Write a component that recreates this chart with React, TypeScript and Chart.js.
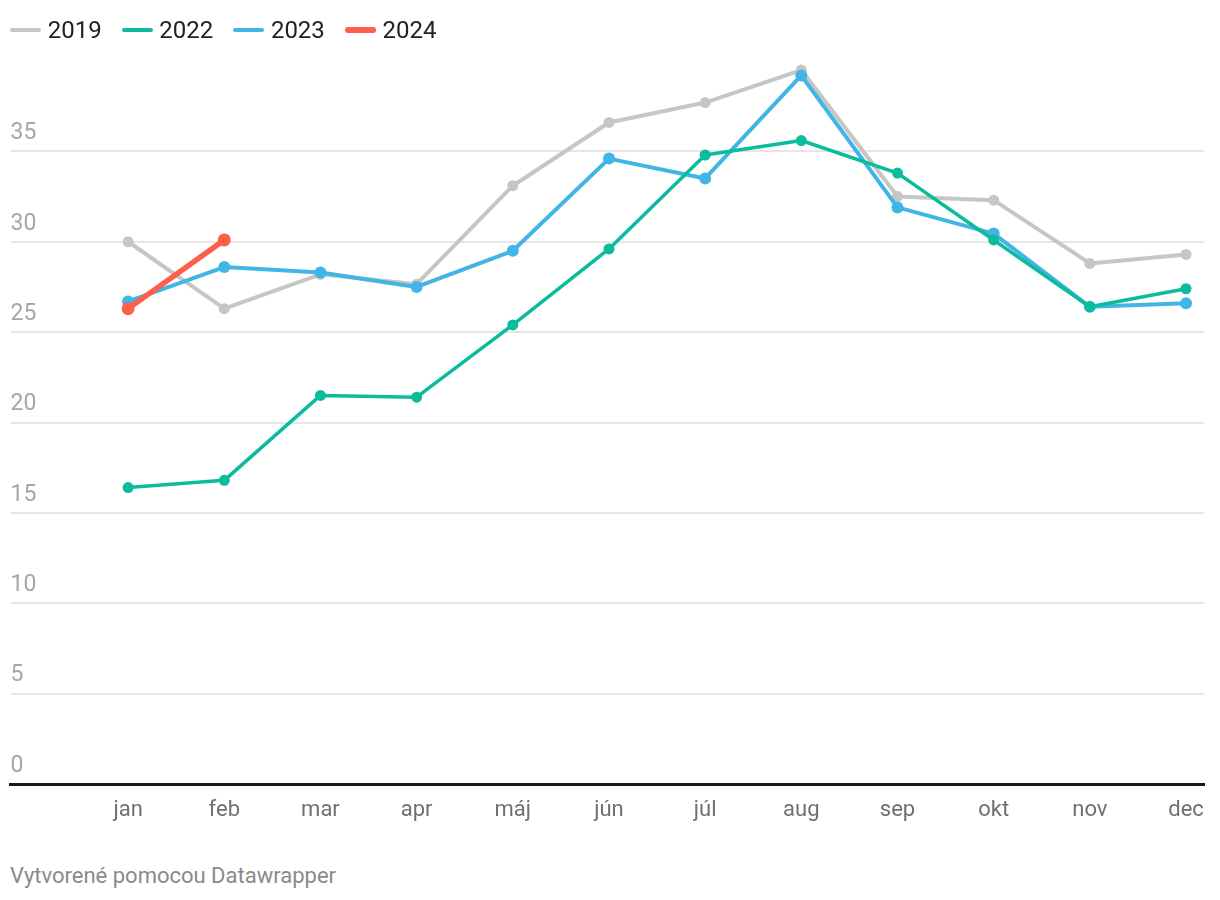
import React, { useEffect, useRef } from "react";
import { Chart, registerables } from "chart.js";

Chart.register(...registerables);

const months = ["jan", "feb", "mar", "apr", "máj", "jún", "júl", "aug", "sep", "okt", "nov", "dec"];
const yTicks = [0, 5, 10, 15, 20, 25, 30, 35];

const values2019 = [30.0, 26.3, 28.2, 27.65, 33.1, 36.6, 37.7, 39.5, 32.5, 32.3, 28.8, 29.3];
const values2022 = [16.4, 16.8, 21.5, 21.4, 25.4, 29.6, 34.8, 35.6, 33.8, 30.1, 26.4, 27.4];
const values2023 = [26.7, 28.6, 28.3, 27.5, 29.5, 34.6, 33.5, 39.2, 31.9, 30.45, 26.4, 26.6];
const values2024 = [26.3, 30.1];

const seriesNames = ["2019", "2022", "2023", "2024"];
const seriesColors = ["#c6c6c6", "#0abc9c", "#41b6e6", "#fd5f4b"];
const seriesValues = [values2019, values2022, values2023, values2024];
const lineWidths = [4, 3.5, 4, 5.5];
const pointRadii = [5.5, 5.5, 6, 6.5];
const drawOrder = [3, 1, 2, 0];
const legendThickness = [4, 4, 4, 6];

const FONT = "Roboto, 'Noto Sans', sans-serif";

export default function App() {
  const canvasRef = useRef<HTMLCanvasElement | null>(null);

  useEffect(() => {
    if (!canvasRef.current) return;
    const chart = new Chart(canvasRef.current, {
      type: "line",
      data: {
        datasets: seriesValues.map((vals, si) => ({
          label: seriesNames[si],
          data: vals.map((v, i) => ({ x: i, y: v })),
          borderColor: seriesColors[si],
          backgroundColor: seriesColors[si],
          pointBackgroundColor: seriesColors[si],
          pointBorderWidth: 0,
          borderWidth: lineWidths[si],
          pointRadius: pointRadii[si],
          pointHoverRadius: pointRadii[si],
          borderCapStyle: "round",
          borderJoinStyle: "round",
          tension: 0,
          order: drawOrder[si],
          clip: false as any,
        })),
      },
      options: {
        animation: false,
        responsive: true,
        maintainAspectRatio: false,
        layout: { padding: { top: 53, left: 2, right: 8, bottom: 11.6 } },
        plugins: {
          legend: { display: false },
          tooltip: { enabled: false },
        },
        scales: {
          x: {
            type: "linear",
            min: -1.223,
            max: 11.187,
            afterBuildTicks: (scale: any) => {
              scale.ticks = months.map((_, i) => ({ value: i }));
            },
            afterFit: (scale: any) => {
              scale.paddingLeft = 0;
              scale.paddingRight = 0;
            },
            grid: { display: false, drawTicks: false },
            border: { display: true, color: "#1a1a1a", width: 3 },
            ticks: {
              autoSkip: false,
              maxRotation: 0,
              padding: 13,
              color: "#707070",
              font: { family: FONT, size: 22 },
              callback: (v: any) => months[v as number] ?? "",
            },
          },
          y: {
            type: "linear",
            min: 0,
            max: 40,
            afterBuildTicks: (scale: any) => {
              scale.ticks = yTicks.map((v) => ({ value: v }));
            },
            afterFit: (scale: any) => {
              scale.width = 0;
              scale.paddingTop = 0;
              scale.paddingBottom = 0;
            },
            grid: { color: "#e6e6e6", lineWidth: 2, drawTicks: false },
            border: { display: false },
            ticks: {
              mirror: true,
              padding: 0,
              labelOffset: -18,
              color: "#a6a6a6",
              font: { family: FONT, size: 23 },
              callback: (v: any) => String(v),
            },
          },
        },
      },
    });
    return () => chart.destroy();
  }, []);

  return (
    <div style={{ position: "relative", width: 1204, height: 884, fontFamily: FONT }}>
      <div style={{ position: "absolute", left: -4, top: 0, width: 1208, height: 840 }}>
        <canvas ref={canvasRef} />
      </div>
      <div
        style={{
          position: "absolute",
          left: 2,
          top: 8,
          height: 28,
          display: "flex",
          alignItems: "center",
          fontSize: 24,
          color: "#222",
        }}
      >
        {seriesNames.map((name, i) => (
          <div key={name} style={{ display: "flex", alignItems: "center", marginRight: 19.8 }}>
            <span
              style={{
                display: "inline-block",
                width: 31,
                height: legendThickness[i],
                borderRadius: 3,
                background: seriesColors[i],
                marginRight: 6.8,
              }}
            />
            <span>{name}</span>
          </div>
        ))}
      </div>
      <div
        style={{
          position: "absolute",
          left: 2,
          top: 855,
          fontSize: 22,
          lineHeight: "26px",
          color: "#8a8a8a",
        }}
      >
        Vytvorené pomocou Datawrapper
      </div>
    </div>
  );
}
